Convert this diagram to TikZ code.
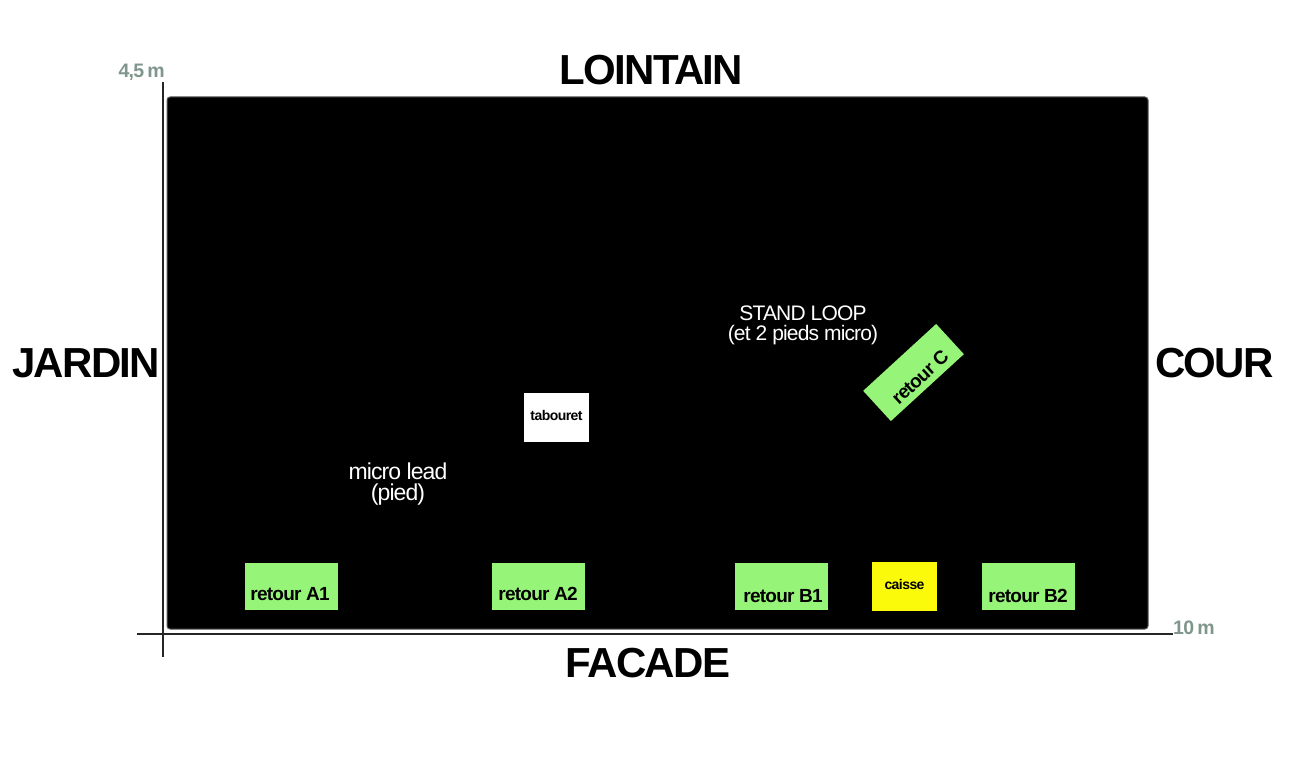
\documentclass[tikz,border=0pt]{standalone}
\usepackage{fontspec}
\setmainfont{Liberation Sans}
\newfontfamily\tightsans[LetterSpace=-4]{Liberation Sans}
\definecolor{retourgreen}{RGB}{150,245,120}
\definecolor{caisseyellow}{RGB}{250,250,10}
\definecolor{axisgray}{RGB}{128,150,140}
\definecolor{stageedge}{RGB}{90,90,90}
\tikzset{
  title/.style={font=\tightsans\bfseries\fontsize{42}{46}\selectfont, text=black, anchor=base, inner sep=0},
  retourbox/.style={fill=retourgreen, draw=none, minimum width=93pt, minimum height=47pt, inner sep=0},
  boxlabel/.style={font=\tightsans\bfseries\fontsize{19}{21}\selectfont, text=black, anchor=base, inner sep=0},
  smalllabel/.style={font=\tightsans\bfseries\fontsize{14}{16}\selectfont, text=black, anchor=base, inner sep=0},
  stagetext/.style={font=\tightsans\fontsize{21}{20}\selectfont, text=white, align=center, inner sep=0},
  dimtext/.style={font=\tightsans\bfseries\fontsize{19.5}{20}\selectfont, text=axisgray, anchor=base, inner sep=0},
  axisline/.style={draw=black!85, line width=1.3pt}
}
\begin{document}
\begin{tikzpicture}[x=1pt,y=-1pt]
\useasboundingbox[fill=white] (0,0) rectangle (1290,778);
% stage
\path[fill=black, draw=stageedge, line width=1pt, rounded corners=3pt] (167,97) rectangle (1148,629);
% axes
\coordinate (vtop) at (163,82);
\coordinate (vbot) at (163,657);
\coordinate (hleft) at (137,634);
\coordinate (hright) at (1173,634);
\draw[axisline] (vtop) -- (vbot);
\draw[axisline] (hleft) -- (hright);
\node[dimtext, anchor=base east] (d45) at (165,78) {4,5\,m};
\node[dimtext, anchor=base west] (d10) at (1173,634) {10\,m};
% titles
\node[title] (lointain) at (651.5,85) {LOINTAIN};
\node[title] (facade) at (648,677) {FACADE};
\node[title, anchor=base west] (jardin) at (12,377) {JARDIN};
\node[title, anchor=base west] (cour) at (1155,377) {COUR};
% boxes
\node[retourbox] (a1) at (291.5,586.5) {};
\node[boxlabel] (a1t) at (290,600) {retour A1};
\node[retourbox] (a2) at (538.5,586.5) {};
\node[boxlabel] (a2t) at (538,600) {retour A2};
\node[retourbox] (b1) at (781.5,586.5) {};
\node[boxlabel] (b1t) at (783,602) {retour B1};
\node[retourbox] (b2) at (1028.5,586.5) {};
\node[boxlabel] (b2t) at (1028,602) {retour B2};
\node[fill=caisseyellow, minimum width=65pt, minimum height=49pt, inner sep=0] (caisse) at (904.5,586.5) {};
\node[smalllabel] (caisset) at (904.5,589) {caisse};
\node[fill=white, minimum width=65pt, minimum height=49pt, inner sep=0] (tab) at (556.5,417.5) {};
\node[smalllabel] (tabt) at (556.5,420) {tabouret};
\coordinate (rc) at (913.5,372.5);
\fill[retourgreen, rotate around={42.5:(rc)}] (864,352) rectangle (963,393);
\node[boxlabel, anchor=center, rotate=42.5] (rct) at (920,377) {retour C};
% stage texts
\node[stagetext] (stand) at (803,325) {STAND LOOP\\(et 2 pieds micro)};
\node[stagetext, font=\tightsans\fontsize{23}{21}\selectfont] (micro) at (398,484) {micro lead\\(pied)};
\end{tikzpicture}
\end{document}
